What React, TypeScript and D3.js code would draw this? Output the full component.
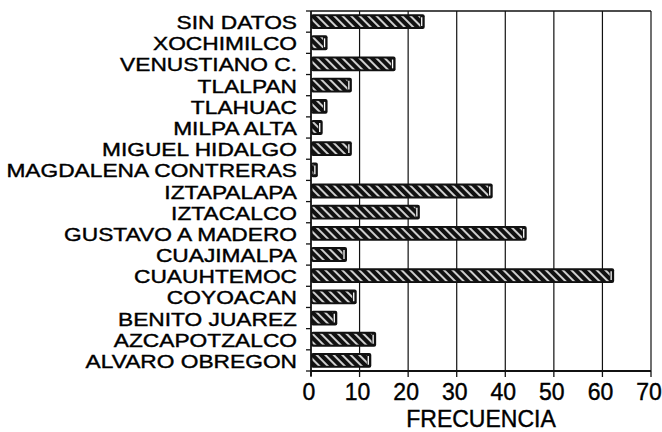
import React from "react";
import * as d3 from "d3";

const categories = [
  "SIN DATOS",
  "XOCHIMILCO",
  "VENUSTIANO C.",
  "TLALPAN",
  "TLAHUAC",
  "MILPA ALTA",
  "MIGUEL HIDALGO",
  "MAGDALENA CONTRERAS",
  "IZTAPALAPA",
  "IZTACALCO",
  "GUSTAVO A MADERO",
  "CUAJIMALPA",
  "CUAUHTEMOC",
  "COYOACAN",
  "BENITO JUAREZ",
  "AZCAPOTZALCO",
  "ALVARO OBREGON",
];
const values = [23, 3, 17, 8, 3, 2, 8, 1, 37, 22, 44, 7, 62, 9, 5, 13, 12];
const xTicks = [0, 10, 20, 30, 40, 50, 60, 70];
const xTitle = "FRECUENCIA";

const W = 662;
const H = 432;
const left = 311;
const right = 651;
const top = 11;
const bottom = 371;
const font = "'Liberation Sans', Arial, Helvetica, sans-serif";

export default function App() {
  const x = d3.scaleLinear().domain([0, 70]).range([left, right]);
  const y = d3
    .scaleBand<string>()
    .domain(categories)
    .range([top, bottom])
    .paddingInner(0.3)
    .paddingOuter(0.15);
  const bandEdges = d3.range(categories.length + 1).map((i) => top + (i * (bottom - top)) / categories.length);

  return (
    <svg
      width={W}
      height={H}
      style={{ position: "absolute", left: 0, top: 0, background: "#fff" }}
    >
      <defs>
        <pattern
          id="hatch"
          width={6}
          height={6}
          patternUnits="userSpaceOnUse"
          patternTransform="rotate(-45)"
        >
          <rect x={0} y={0} width={6} height={6} fill="#111" />
          <line x1={3} y1={0} x2={3} y2={6} stroke="#fff" strokeWidth={1.6} />
        </pattern>
      </defs>
      <rect x={0} y={0} width={W} height={H} fill="#fff" />

      {/* grid lines */}
      {xTicks.slice(1).map((t) => (
        <line key={"g" + t} x1={x(t)} x2={x(t)} y1={top} y2={bottom} stroke="#111" strokeWidth={1.2} />
      ))}
      {/* top border */}
      <line x1={left} x2={right} y1={top} y2={top} stroke="#111" strokeWidth={1.5} />

      {/* bars */}
      {categories.map((c, i) => {
        const v = values[i];
        const yy = y(c)!;
        const h = y.bandwidth();
        const x0 = x(0);
        const x1 = x(v);
        return (
          <g key={c}>
            <rect x={x0} y={yy} width={x1 - x0 + 2} height={h} rx={2} fill="#111" />
            <rect
              x={x0 + 1.5}
              y={yy + 2}
              width={Math.max(0, x1 - x0 - 4)}
              height={h - 4}
              fill="url(#hatch)"
            />
            <line x1={x1 - 1} x2={x1 - 1} y1={yy + 3} y2={yy + h - 3} stroke="#fff" strokeWidth={1.3} />
          </g>
        );
      })}

      {/* y axis */}
      <line x1={left} x2={left} y1={top} y2={bottom + 5} stroke="#111" strokeWidth={1.8} />
      {bandEdges.map((e, i) => (
        <line key={"yt" + i} x1={left - 5} x2={left} y1={e} y2={e} stroke="#111" strokeWidth={1.3} />
      ))}
      {categories.map((c) => (
        <text
          key={"l" + c}
          transform={`translate(297,${y(c)! + y.bandwidth() / 2 + 7.5}) scale(1.21,1)`}
          textAnchor="end"
          fontFamily={font}
          fontSize={18.8}
          fill="#000"
          stroke="#000"
          strokeWidth={0.4}
        >
          {c}
        </text>
      ))}

      {/* x axis */}
      <line x1={left} x2={right} y1={bottom} y2={bottom} stroke="#111" strokeWidth={1.8} />
      {xTicks.map((t) => (
        <g key={"xt" + t}>
          <line x1={x(t)} x2={x(t)} y1={bottom} y2={bottom + 6} stroke="#111" strokeWidth={1.3} />
          <text
            x={x(t) - 2}
            y={400}
            textAnchor="middle"
            fontFamily={font}
            fontSize={23}
            fill="#000"
            stroke="#000"
            strokeWidth={0.4}
          >
            {t}
          </text>
        </g>
      ))}
      <text
        x={(left + right) / 2}
        y={427}
        textAnchor="middle"
        fontFamily={font}
        fontSize={23}
        fill="#000"
        stroke="#000"
        strokeWidth={0.4}
      >
        {xTitle}
      </text>
    </svg>
  );
}
